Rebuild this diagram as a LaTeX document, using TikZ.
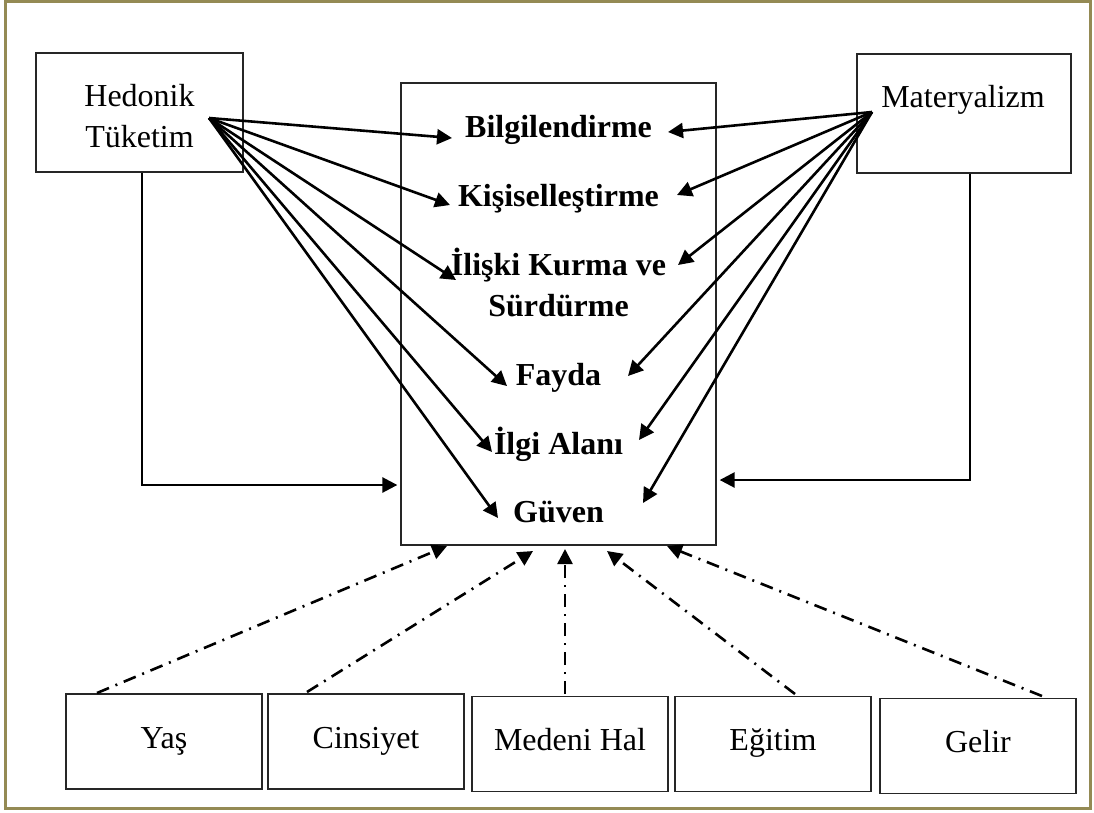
\documentclass[tikz,border=0pt]{standalone}
\usepackage{fontspec}
\setmainfont{Liberation Serif}
\usetikzlibrary{arrows.meta,calc}
\definecolor{frameolive}{HTML}{948A54}
\begin{document}
\begin{tikzpicture}[x=1pt,y=-1pt,
  boxnode/.style={draw=black!85, line width=1.3pt, inner sep=0pt, rectangle},
  lbl/.style={font=\fontsize{32}{41}\selectfont, inner sep=0pt},
  blbl/.style={font=\fontsize{32}{41}\selectfont\bfseries, inner sep=0pt},
  botbox/.style={boxnode, minimum width=196pt, minimum height=95pt, font=\fontsize{32}{41}\selectfont, text height=22pt, text depth=9pt},
  arr/.style={line width=2.6pt, -{Triangle[length=15pt,width=15pt]}},
  dd/.style={line width=2.6pt, dash pattern=on 13pt off 7pt on 2pt off 7pt, -{Triangle[length=15pt,width=15pt]}}]
\useasboundingbox (0,0) rectangle (1094,812);
\draw[frameolive, line width=3pt] (5.5,1.5) rectangle (1090,808.5);

% boxes
\node[boxnode, minimum width=207pt, minimum height=119pt] (hedbox) at (139.5,112.5) {};
\node[boxnode, minimum width=214pt, minimum height=119pt] (matbox) at (964,113.5) {};
\node[boxnode, minimum width=315pt, minimum height=462pt] (mid) at (558.5,314) {};

\node[lbl, align=center, anchor=south] (hedtxt) at (139.5,148) {Hedonik\\Tüketim};
\node[lbl, anchor=base] (mattxt) at (963,107) {Materyalizm};

\node[blbl, anchor=base] (bil) at (558.5,137) {Bilgilendirme};
\node[blbl, anchor=base] (kis) at (558.5,206) {Kişiselleştirme};
\node[blbl, align=center, anchor=south] (ili) at (558.5,317) {İlişki Kurma ve\\Sürdürme};
\node[blbl, anchor=base] (fay) at (558.5,385) {Fayda};
\node[blbl, anchor=base] (ilg) at (558.5,454) {İlgi Alanı};
\node[blbl, anchor=base] (guv) at (558.5,522) {Güven};

% bottom boxes
\node[botbox] (yas) at (164,741.5) {Yaş};
\node[botbox] (cin) at (366,741.5) {Cinsiyet};
\node[botbox] (med) at (570,744) {Medeni Hal};
\node[botbox] (egi) at (773,744) {Eğitim};
\node[botbox] (gel) at (978,746) {Gelir};

% sources and tips
\coordinate (hsrc) at (209,118);
\coordinate (msrc) at (872,112);
\coordinate (tb1) at (452,138);
\coordinate (tb2) at (450,205);
\coordinate (tb3) at (456,280);
\coordinate (tb4) at (507,386);
\coordinate (tb5) at (492,452);
\coordinate (tb6) at (498,518);
\coordinate (tm1) at (668,132);
\coordinate (tm2) at (677,195);
\coordinate (tm3) at (678,265);
\coordinate (tm4) at (628,376);
\coordinate (tm5) at (639,440);
\coordinate (tm6) at (643,503);

\foreach \i in {1,...,6} {
  \draw[arr] (hsrc) -- (tb\i);
  \draw[arr] (msrc) -- (tm\i);
}

% elbows
\coordinate (hturn) at (142,485);
\draw[arr, shorten >=3pt] (hturn |- hedbox.south) -- (hturn) -- (hturn -| mid.west);
\coordinate (mturn) at (970,480);
\draw[arr, shorten >=3pt] (mturn |- matbox.south) -- (mturn) -- (mturn -| mid.east);

% dash-dot arrows
\coordinate (s1) at (97,693);
\coordinate (s2) at (307,692);
\coordinate (s3) at (565,694);
\coordinate (s4) at (795,694);
\coordinate (s5) at (1042,696);
\coordinate (e1) at (447,546);
\coordinate (e2) at (533,551);
\coordinate (e3) at (565,549);
\coordinate (e4) at (607,551);
\coordinate (e5) at (667,546);
\foreach \i in {1,...,5} {
  \draw[dd] (s\i) -- (e\i);
}
\end{tikzpicture}
\end{document}
